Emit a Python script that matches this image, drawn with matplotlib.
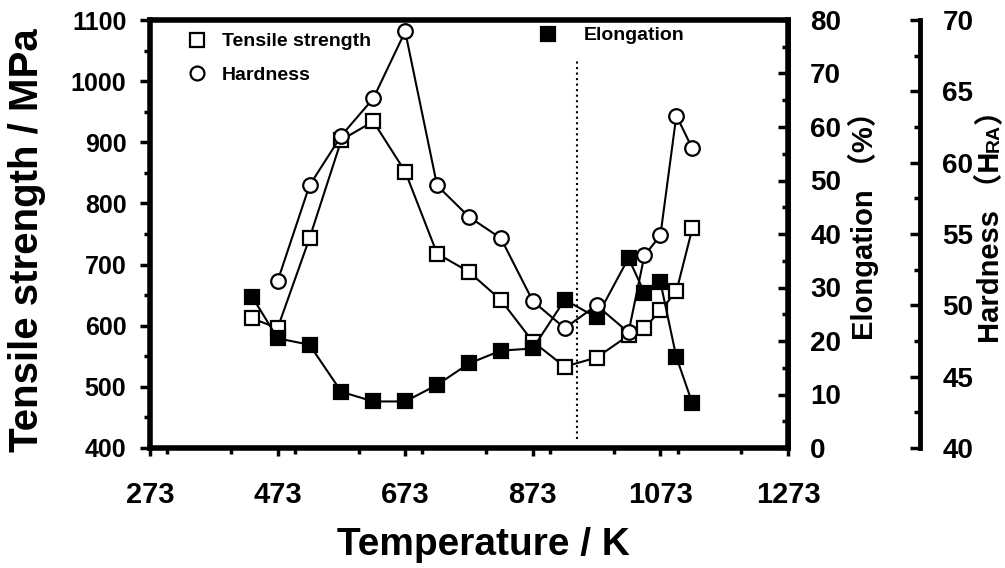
import matplotlib
matplotlib.use('Agg')
import matplotlib.pyplot as plt
from matplotlib.lines import Line2D
from matplotlib.ticker import MultipleLocator

plt.rcParams['font.family'] = ['Liberation Sans', 'Noto Sans CJK SC', 'DejaVu Sans']
plt.rcParams['font.weight'] = 'bold'

# temperature (K) of each measurement
temp = [433, 473, 523, 573, 623, 673, 723, 773, 823, 873, 923, 973,
        1023, 1048, 1073, 1098, 1123]
tensile = [612, 596, 743, 904, 934, 852, 718, 688, 642, 574, 533, 548,
           584, 596, 625, 656, 759]
elongation = [28.3, 20.5, 19.3, 10.5, 8.7, 8.7, 11.8, 15.8, 18.2, 18.6,
              27.7, 24.4, 35.5, 29.0, 31.0, 17.0, 8.4]
# hardness has no point at 433 K
temp_hd = temp[1:]
hardness = [51.7, 58.4, 61.9, 64.5, 69.2, 58.4, 56.2, 54.7, 50.3, 48.4,
            50.0, 48.1, 53.5, 54.9, 63.3, 61.0]

x_ticks = [273, 473, 673, 873, 1073, 1273]
divide_temp = 943

fig = plt.figure(figsize=(10.05, 5.68), dpi=100)
ax = fig.add_axes([150 / 1005, 1 - 448 / 568, 638 / 1005, 428 / 568])
ax2 = ax.twinx()
ax3 = ax.twinx()
ax3.spines['right'].set_position(('axes', 1.207))

mk = dict(color='black', lw=1.5, ms=10.5, mew=1.6)
ax.plot(temp, tensile, marker='s', mfc='white', mec='black', **mk)
ax3.plot(temp_hd, hardness, marker='o', mfc='white', mec='black', **mk)
ax2.plot(temp, elongation, marker='s', mfc='black', mec='black', **mk)
ax.axvline(divide_temp, ymin=0.02, ymax=0.91, color='black', ls=':', lw=1.5)

ax.set_xlim(273, 1273)
ax.set_ylim(400, 1100)
ax2.set_ylim(0, 80)
ax3.set_ylim(40, 70)

ax.set_xticks(x_ticks)
ax.xaxis.set_minor_locator(MultipleLocator(100))
ax.yaxis.set_major_locator(MultipleLocator(100))
ax.yaxis.set_minor_locator(MultipleLocator(50))
ax2.yaxis.set_major_locator(MultipleLocator(10))
ax2.yaxis.set_minor_locator(MultipleLocator(5))
ax3.yaxis.set_major_locator(MultipleLocator(5))
ax3.yaxis.set_minor_locator(MultipleLocator(2.5))

ax.tick_params(axis='x', which='major', direction='out', length=6, width=2.5,
               labelsize=21, pad=18, top=False)
ax.tick_params(axis='x', which='minor', direction='out', length=4, width=2.5, top=False)
ax.tick_params(axis='y', which='major', direction='out', length=7, width=2.5,
               labelsize=18, pad=10, right=False)
ax.tick_params(axis='y', which='minor', direction='out', length=4, width=2.5, right=False)
for a in (ax2, ax3):
    a.tick_params(axis='y', which='major', direction='in', length=7, width=2.5,
                  labelsize=20, pad=16)
    a.tick_params(axis='y', which='minor', direction='in', length=4, width=2.5)

for s in ax.spines.values():
    s.set_linewidth(4)
ax2.spines['right'].set_linewidth(3.5)
ax3.spines['right'].set_linewidth(3.5)
for a in (ax2, ax3):
    for side in ('left', 'top', 'bottom'):
        a.spines[side].set_visible(False)

# axis titles
fig.text(27 / 1005, 1 - 240 / 568, 'Tensile strength / MPa', rotation=90,
         ha='center', va='center', fontsize=29)
fig.text(483 / 1005, 1 - 555 / 568, 'Temperature / K', ha='center',
         va='baseline', fontsize=28)
fig.text(873 / 1005, 1 - 340 / 568, 'Elongation （%）', rotation=90,
         rotation_mode='anchor', ha='left', va='baseline', fontsize=21)

# hardness label with small-caps RA
fig.canvas.draw()
renderer = fig.canvas.get_renderer()
y0 = 1 - 343 / 568
for piece, size in (('Hardness （H', 21), ('RA', 14), ('）', 21)):
    t = fig.text(999 / 1005, y0, piece, rotation=90, rotation_mode='anchor',
                 ha='left', va='baseline', fontsize=size)
    bb = t.get_window_extent(renderer)
    y0 = bb.y1 / fig.bbox.height

# legends
sq_open = Line2D([], [], ls='none', marker='s', mfc='white', mec='black', ms=10, mew=1.6)
circ = Line2D([], [], ls='none', marker='o', mfc='white', mec='black', ms=10, mew=1.6)
sq_fill = Line2D([], [], ls='none', marker='s', mfc='black', mec='black', ms=10, mew=1.6)
leg1 = ax3.legend([sq_open, circ], ['Tensile strength', 'Hardness'], loc='upper left',
                  bbox_to_anchor=(0.058, 0.97), frameon=False, fontsize=14,
                  handlelength=1, handletextpad=0.8, labelspacing=0.8, borderpad=0,
                  borderaxespad=0)
ax3.legend([sq_fill], ['Elongation'], loc='upper left', bbox_to_anchor=(0.608, 0.984),
           frameon=False, fontsize=14, handlelength=1, handletextpad=1.35,
           borderpad=0, borderaxespad=0)
ax3.add_artist(leg1)

fig.savefig('out.png', dpi=100)
